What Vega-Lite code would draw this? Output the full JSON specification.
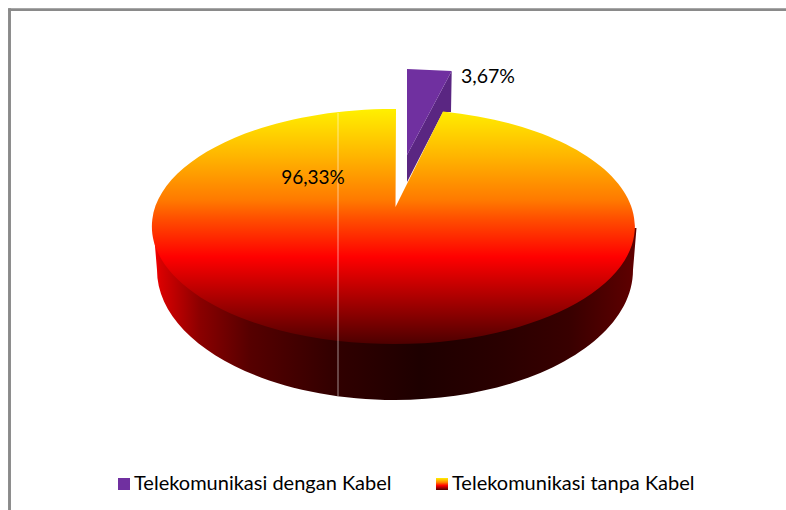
{
 "$schema":"https://vega.github.io/schema/vega-lite/v6.json",
 "width":786,"height":510,"padding":0,
 "autosize":{"type":"fit","contains":"padding"},
 "background":"white",
 "config":{"view":{"stroke":null},"text":{"font":"Lato"}},
 "data":{"values":[
  {"kategori":"Telekomunikasi dengan Kabel","persen":3.67,"label":"3,67%"},
  {"kategori":"Telekomunikasi tanpa Kabel","persen":96.33,"label":"96,33%"}
 ]},
 "encoding":{
  "x":{"datum":395,"type":"quantitative","scale":{"domain":[0,786],"range":[0,786],"nice":false,"zero":false},"axis":null},
  "y":{"datum":226.5,"type":"quantitative","scale":{"domain":[0,510],"range":[0,510],"nice":false,"zero":false},"axis":null}
 },
 "layer":[
  {"mark":{"type":"rule","stroke":"#8a8a8a","strokeWidth":2.6},
   "encoding":{"x":{"datum":9.5,"type":"quantitative"},"y":{"datum":8.5,"type":"quantitative"},"y2":{"datum":510}}},
  {"mark":{"type":"rule","stroke":"#8a8a8a","strokeWidth":2.6},
   "encoding":{"y":{"datum":9.8,"type":"quantitative"},"x":{"datum":8.2,"type":"quantitative"},"x2":{"datum":786}}},
  {"transform":[{"filter":"datum.persen > 50"}],
   "mark":{"type":"point","filled":true,"opacity":1,"size":4,"strokeWidth":0,
    "shape":"M-241.5,1.5L-238,43.5A238,130 0 0 0 238,43.5L241.5,1.5Z",
    "fill":{"gradient":"linear","x1":0,"y1":0,"x2":1,"y2":0,"stops":[
     {"offset":0,"color":"#ff0000"},{"offset":0.015,"color":"#d80000"},{"offset":0.097,"color":"#8a0000"},
     {"offset":0.2,"color":"#560000"},{"offset":0.383,"color":"#300000"},{"offset":0.55,"color":"#1e0000"},
     {"offset":0.72,"color":"#2a0000"},{"offset":0.86,"color":"#380000"},{"offset":1,"color":"#600000"}]}}},
  {"transform":[{"filter":"datum.persen < 50"}],
   "mark":{"type":"point","filled":true,"opacity":1,"size":4,"strokeWidth":0,"fill":"#5a2682",
    "shape":"M56.7,-155.5L56,-114.5L48,-114.5L12,-44.5L12,-71.5Z"}},
  {"transform":[{"filter":"datum.persen < 50"}],
   "mark":{"type":"point","filled":true,"opacity":1,"size":4,"strokeWidth":0,
    "shape":"M12,-157.5L56.7,-155.5L12,-71.5Z"},
   "encoding":{"color":{"field":"kategori","type":"nominal"}}},
  {"transform":[{"filter":"datum.persen > 50"}],
   "mark":{"type":"point","filled":true,"opacity":1,"size":4,"strokeWidth":0,
    "shape":"M0.5,-19.5L1,-117.5A241.5,117.5 0 1 0 48,-115Z"},
   "encoding":{"color":{"field":"kategori","type":"nominal",
    "scale":{"domain":["Telekomunikasi dengan Kabel","Telekomunikasi tanpa Kabel"],
     "range":["#7030a0",{"expr":"{gradient:'linear',x1:0,y1:0,x2:0,y2:1,stops:[{offset:0,color:'#fff000'},{offset:0.2,color:'#ffb500'},{offset:0.387,color:'#ff7a00'},{offset:0.47,color:'#ff4d00'},{offset:0.63,color:'#ff0000'},{offset:1,color:'#4d0000'}]}"}]},
    "legend":{"title":null,"orient":"none","legendX":114,"legendY":474,"direction":"horizontal","columns":2,
     "symbolType":"square","symbolSize":144,"symbolStrokeWidth":0,"symbolOpacity":1,"columnPadding":40,
     "labelFont":"Lato","labelFontSize":20,"labelColor":"#000000","labelLimit":400,"labelOffset":0}}}},
  {"mark":{"type":"rule","stroke":"#ffffff","strokeOpacity":0.3,"strokeWidth":1},
   "encoding":{"x":{"datum":338,"type":"quantitative"},"y":{"datum":113,"type":"quantitative"},"y2":{"datum":396}}},
  {"transform":[{"filter":"datum.persen < 50"}],
   "mark":{"type":"text","fontSize":19.5,"font":"Lato","color":"#000000"},
   "encoding":{"text":{"field":"label"},"x":{"datum":488,"type":"quantitative"},"y":{"datum":77,"type":"quantitative"}}},
  {"transform":[{"filter":"datum.persen > 50"}],
   "mark":{"type":"text","fontSize":19,"font":"Lato","color":"#000000"},
   "encoding":{"text":{"field":"label"},"x":{"datum":313,"type":"quantitative"},"y":{"datum":178,"type":"quantitative"}}}
 ]
}
